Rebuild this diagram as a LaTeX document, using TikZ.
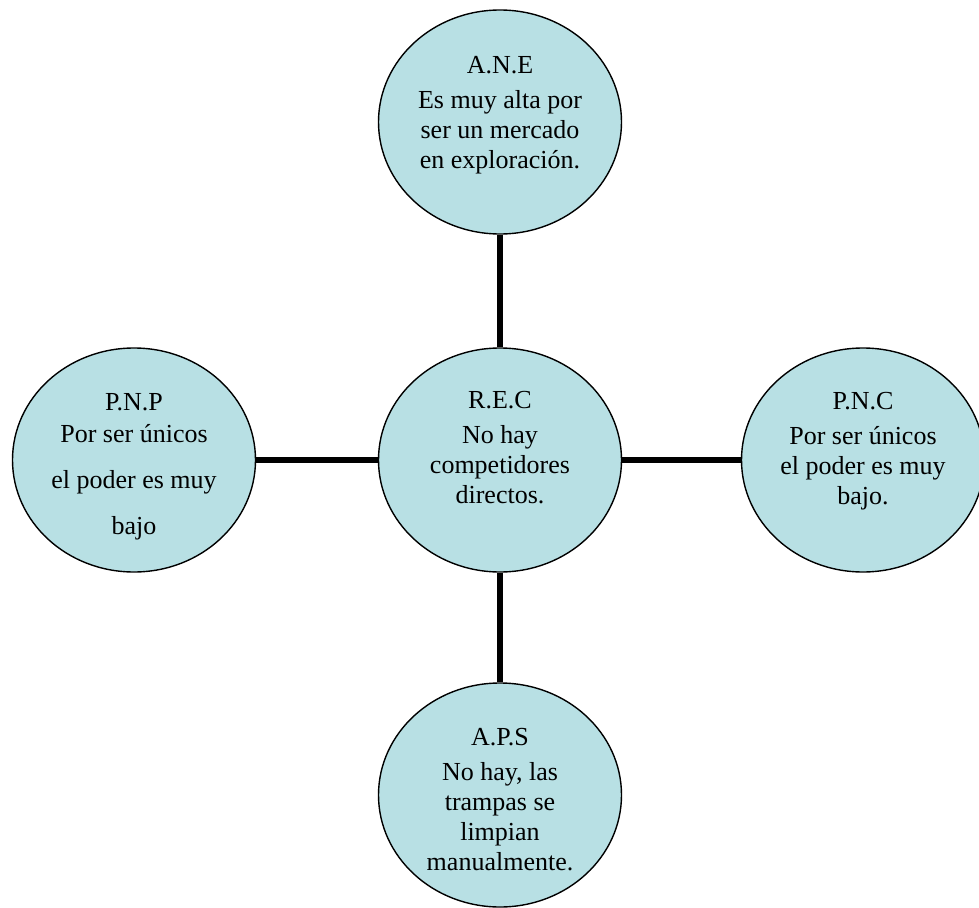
\documentclass[tikz,border=0pt]{standalone}
\usepackage{fontspec}
\setmainfont{Liberation Serif}
\usetikzlibrary{shapes.geometric}
\definecolor{bubblefill}{RGB}{184,224,228}
\begin{document}
\begin{tikzpicture}[x=1pt, y=-1pt,
        bubble/.style={ellipse, draw=black, line width=1.4pt, fill=bubblefill,
            minimum width=243pt, minimum height=224pt, inner sep=0pt},
        txt/.style={align=center, font=\fontsize{26}{30}\selectfont},
        link/.style={line width=5.5pt}]
        \useasboundingbox (0, 0) rectangle (979, 907);
        \node[bubble, label={[txt, yshift=6.5pt]center:{A.N.E\\[5pt]Es muy alta por\\ser un mercado\\en exploración.}}] (ANE) at (500, 122) {};
        \node[bubble, label={[txt, yshift=12pt]center:{R.E.C\\[5pt]No hay\\competidores\\directos.}}] (REC) at (500, 460) {};
        \node[bubble, label={[txt, yshift=-6.5pt]center:{P.N.P\\[2pt]Por ser únicos\\[16pt]el poder es muy\\[16pt]bajo}}] (PNP) at (134, 460) {};
        \node[bubble, label={[txt, yshift=8.5pt]center:{P.N.C\\[5pt]Por ser únicos\\el poder es muy\\bajo.}}] (PNC) at (863, 460) {};
        \node[bubble, label={[txt, yshift=-5pt]center:{A.P.S\\[5pt]No hay, las\\trampas se\\limpian\\manualmente.}}] (APS) at (500, 795) {};
        \draw[link] (ANE) -- (REC);
        \draw[link] (PNP) -- (REC);
        \draw[link] (REC) -- (PNC);
        \draw[link] (REC) -- (APS);
    \end{tikzpicture}
\end{document}
